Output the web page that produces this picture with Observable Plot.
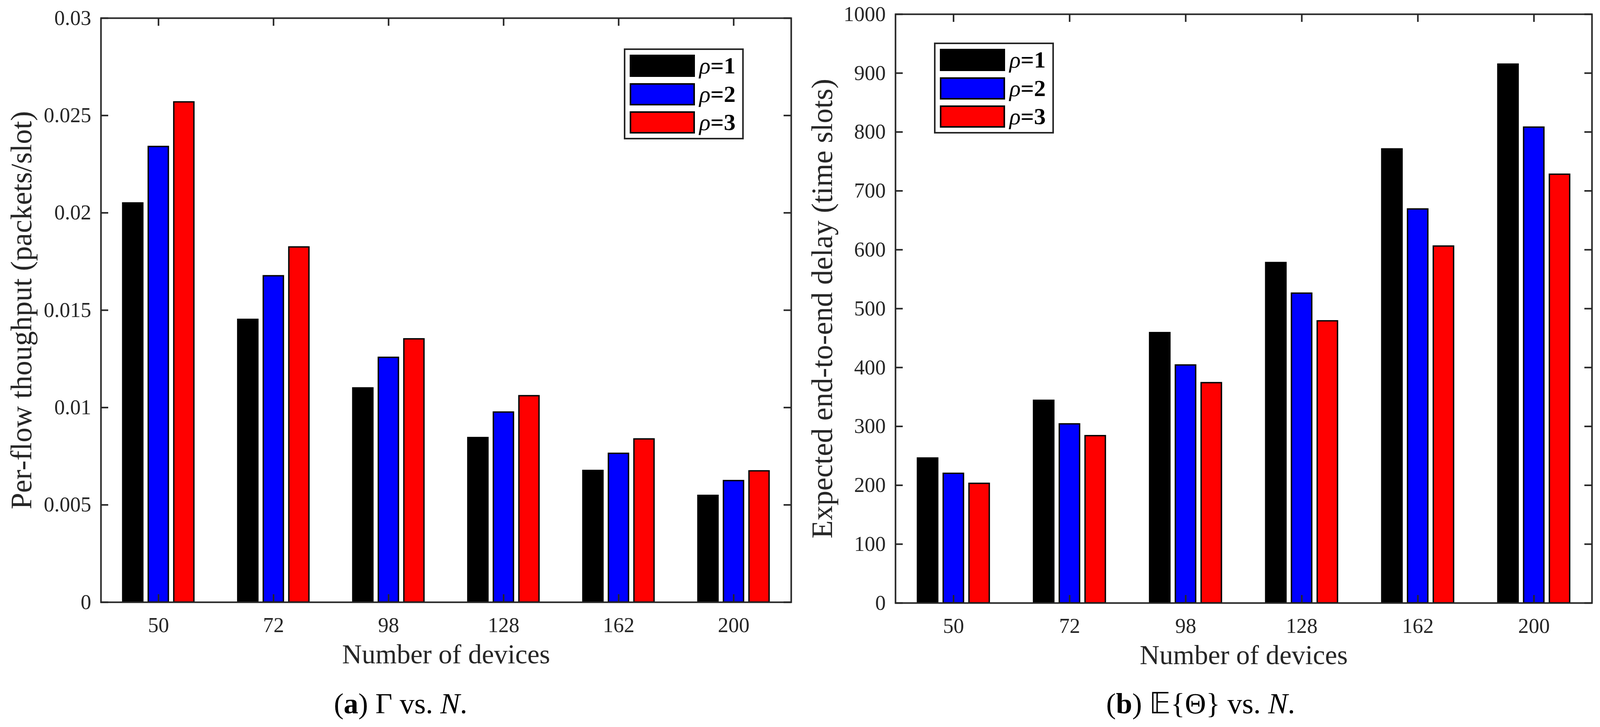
<!DOCTYPE html>
<html>
<head>
<meta charset="utf-8">
<script src="https://cdn.jsdelivr.net/npm/d3@7"></script>
<script src="https://cdn.jsdelivr.net/npm/@observablehq/plot@0.6"></script>
<style>
  html, body { margin: 0; padding: 0; background: #fff; overflow: hidden; }
  #fig { position: relative; height: 1862px; background: #fff; font-family: "Liberation Serif", serif; }
  .panel { position: absolute; top: 0; }
  .caption { position: absolute; top: 1764px; text-align: center; font-size: 75px; line-height: 1; color: #000; }
  .legend { position: absolute; box-sizing: border-box; border: 4px solid #262626; background: #fff; height: 233px; }
  .legend .sw { position: absolute; height: 57px; box-sizing: border-box; border: 4px solid #000; }
  .legend .lab { position: absolute; font-size: 60px; line-height: 57px; color: #000; font-weight: 600; }
</style>
</head>
<body>
<div id="fig"></div>
<script>
const devices = ["50", "72", "98", "128", "162", "200"];
const rhoValues = [1, 2, 3];
const rhoLabels = ["ρ=1", "ρ=2", "ρ=3"];
const barColors = ["#000000", "#0000ff", "#ff0000"];

// (a) per-flow throughput, packets/slot
const throughputRho1 = [0.0205, 0.01452, 0.0110, 0.00845, 0.00676, 0.00548];
const throughputRho2 = [0.0234, 0.01676, 0.01257, 0.00976, 0.00764, 0.00624];
const throughputRho3 = [0.02569, 0.01824, 0.01352, 0.0106, 0.00838, 0.00674];
const throughputTicks = [0, 0.005, 0.01, 0.015, 0.02, 0.025, 0.03];

// (b) expected end-to-end delay, time slots
const delayRho1 = [246, 344, 459, 578, 771, 915];
const delayRho2 = [220, 304, 404, 526, 669, 808];
const delayRho3 = [203, 284, 374, 479, 606, 728];
const delayTicks = [0, 100, 200, 300, 400, 500, 600, 700, 800, 900, 1000];

const axisColor = "#262626";
const barOffset = 0.222, barWidth = 0.175, tickLen = 20;

// the browser may give a narrower viewport than the 4393px figure:
// horizontal layout is scaled to it, vertical stays as is
const W = Math.min(4393, window.innerWidth || 4393);
const SX = W / 4393;
const X = v => Math.round(v * SX);

function toRows(series) {
  return series.flatMap((vals, s) =>
    vals.map((v, i) => ({device: devices[i], idx: i + 1, s, rho: rhoLabels[s], value: v})));
}

function panel({data, yDomain, yTicks, yLabel, width, height, margin, yLabelDx}) {
  const [mt, mr, mb, ml] = margin;
  const innerW = width - ml - mr, innerH = height - mt - mb;
  const xTicks = devices.map((d, i) => i + 1);
  return Plot.plot({
    width, height,
    marginTop: mt, marginRight: mr, marginBottom: mb, marginLeft: ml,
    style: {fontFamily: "'Liberation Serif', serif", fontSize: "54px", color: axisColor, background: "#fff", overflow: "visible", maxWidth: "none"},
    x: {type: "linear", domain: [0.5, 6.5], axis: null},
    y: {type: "linear", domain: yDomain, axis: null},
    color: {domain: rhoLabels, range: barColors},
    marks: [
      Plot.rect(data, {
        x1: d => d.idx + (d.s - 1) * barOffset - barWidth / 2,
        x2: d => d.idx + (d.s - 1) * barOffset + barWidth / 2,
        y1: 0, y2: "value",
        fill: "rho", stroke: "#000", strokeWidth: 3.5
      }),
      // inward ticks on all four sides, like the matlab box
      Plot.tickX(xTicks, {x: d => d, insetTop: innerH - tickLen, stroke: axisColor, strokeWidth: 4}),
      Plot.tickX(xTicks, {x: d => d, insetBottom: innerH - tickLen, stroke: axisColor, strokeWidth: 4}),
      Plot.tickY(yTicks, {y: d => d, insetRight: innerW - X(tickLen), stroke: axisColor, strokeWidth: 4}),
      Plot.tickY(yTicks, {y: d => d, insetLeft: innerW - X(tickLen), stroke: axisColor, strokeWidth: 4}),
      Plot.frame({stroke: axisColor, strokeWidth: 4}),
      Plot.axisX(xTicks, {anchor: "bottom", tickSize: 0, tickPadding: 38, tickFormat: i => devices[i - 1], fontSize: 54, label: null}),
      Plot.axisY(yTicks, {anchor: "left", tickSize: 0, tickPadding: X(27), tickFormat: d => String(d), fontSize: 54, label: null}),
      Plot.text(["Number of devices"], {frameAnchor: "bottom", lineAnchor: "bottom", textAnchor: "middle", dy: 156, fontSize: 70, fill: axisColor}),
      Plot.text([yLabel], {frameAnchor: "left", rotate: -90, dx: yLabelDx, textAnchor: "middle", lineAnchor: "middle", fontSize: 76, fill: axisColor})
    ]
  });
}

function legend(left, top) {
  const box = d3.create("div").attr("class", "legend")
    .style("left", X(left) + "px").style("top", top + "px").style("width", X(329) + "px");
  rhoValues.forEach((v, i) => {
    const y = 12 + i * 72.5;
    box.append("div").attr("class", "sw")
      .style("top", y + "px").style("left", X(12) + "px").style("width", X(179) + "px")
      .style("background", barColors[i]);
    box.append("div").attr("class", "lab")
      .style("top", y + "px").style("left", X(203) + "px")
      .html(`<i style="font-weight:normal">ρ</i>=${v}`);
  });
  return box.node();
}

const fig = d3.select("#fig").style("width", W + "px");

const left = panel({
  data: toRows([throughputRho1, throughputRho2, throughputRho3]),
  yDomain: [0, 0.03], yTicks: throughputTicks,
  yLabel: "Per-flow thoughput (packets/slot)",
  width: X(2200), height: 1740, margin: [46, X(28), 198, X(277)], yLabelDx: -X(218)
});
const right = panel({
  data: toRows([delayRho1, delayRho2, delayRho3]),
  yDomain: [0, 1000], yTicks: delayTicks,
  yLabel: "Expected end-to-end delay (time slots)",
  width: W - X(2200), height: 1740, margin: [36, X(23), 196, X(259)], yLabelDx: -X(201)
});

fig.append("div").attr("class", "panel").style("left", "0px").append(() => left);
fig.append("div").attr("class", "panel").style("left", X(2200) + "px").append(() => right);

fig.append(() => legend(1713, 124));
fig.append(() => legend(2564, 109));

fig.append("div").attr("class", "caption").style("left", "0px").style("width", X(2200) + "px")
  .html("(<b>a</b>) Γ vs. <i>N</i>.");
fig.append("div").attr("class", "caption").style("left", X(2200) + "px").style("width", (W - X(2200)) + "px")
  .html("(<b>b</b>) 𝔼{Θ} vs. <i>N</i>.");
</script>
</body>
</html>
